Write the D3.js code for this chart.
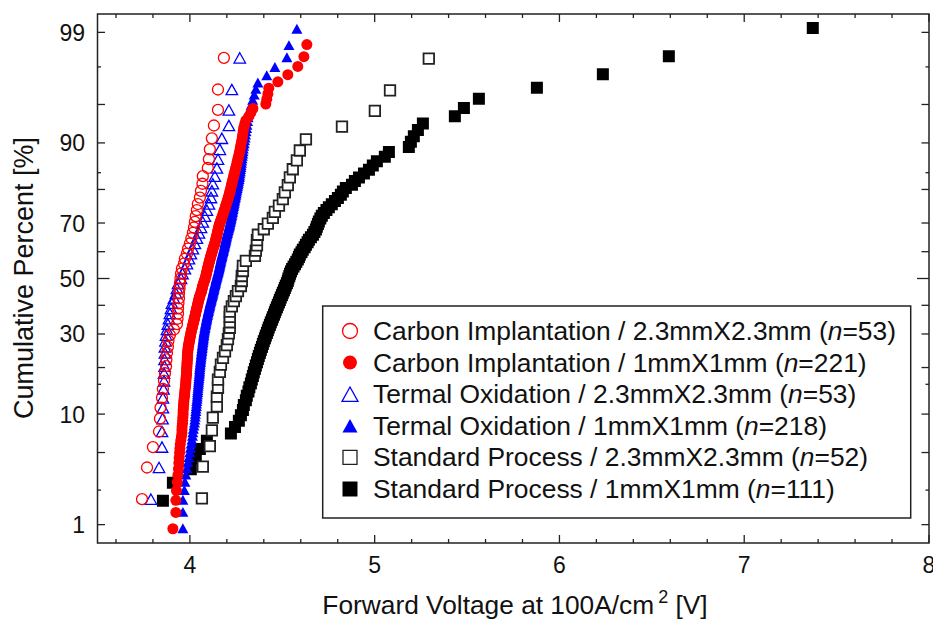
<!DOCTYPE html>
<html>
<head>
<meta charset="utf-8">
<script src="https://d3js.org/d3.v7.min.js"></script>
<style>
  body { margin: 0; background: #fff; }
  text { font-family: "Liberation Sans", Arial, sans-serif; fill: #111; }
</style>
</head>
<body>
<script>
// forward voltage readings [V], sorted, one per device
var carbonLarge = [3.741, 3.768, 3.800, 3.833, 3.838, 3.841, 3.849, 3.854, 3.860, 3.865,
  3.871, 3.873, 3.876, 3.881, 3.884, 3.892, 3.914, 3.930, 3.933, 3.936,
  3.936, 3.938, 3.941, 3.941, 3.944, 3.946, 3.949, 3.952, 3.957, 3.968,
  3.973, 3.984, 3.990, 4.000, 4.008, 4.016, 4.022, 4.027, 4.032, 4.038,
  4.043, 4.054, 4.060, 4.068, 4.070, 4.097, 4.103, 4.108, 4.119, 4.130,
  4.152, 4.152, 4.184];

// first value falls below 1%, last two are off the top / right of the plot
var carbonSmall = [3.905, 3.908, 3.924, 3.924, 3.927, 3.932, 3.935, 3.938, 3.940, 3.942,
  3.944, 3.946, 3.948, 3.951, 3.954, 3.957, 3.957, 3.958, 3.960, 3.961,
  3.962, 3.963, 3.963, 3.964, 3.965, 3.966, 3.967, 3.968, 3.970, 3.971,
  3.972, 3.973, 3.974, 3.976, 3.977, 3.978, 3.978, 3.979, 3.980, 3.981,
  3.982, 3.982, 3.983, 3.983, 3.984, 3.984, 3.985, 3.985, 3.986, 3.986,
  3.987, 3.987, 3.988, 3.988, 3.989, 3.990, 3.991, 3.992, 3.994, 3.995,
  3.996, 3.998, 3.999, 4.001, 4.002, 4.004, 4.005, 4.007, 4.008, 4.010,
  4.012, 4.014, 4.015, 4.017, 4.019, 4.021, 4.022, 4.024, 4.025, 4.027,
  4.029, 4.030, 4.032, 4.033, 4.035, 4.037, 4.038, 4.040, 4.041, 4.043,
  4.045, 4.046, 4.048, 4.049, 4.051, 4.053, 4.055, 4.057, 4.060, 4.062,
  4.064, 4.065, 4.067, 4.068, 4.070, 4.072, 4.074, 4.076, 4.078, 4.081,
  4.083, 4.085, 4.086, 4.088, 4.089, 4.091, 4.092, 4.094, 4.095, 4.097,
  4.099, 4.100, 4.102, 4.103, 4.105, 4.107, 4.109, 4.110, 4.112, 4.114,
  4.116, 4.118, 4.120, 4.122, 4.124, 4.126, 4.128, 4.131, 4.133, 4.135,
  4.137, 4.139, 4.140, 4.142, 4.144, 4.146, 4.147, 4.149, 4.150, 4.152,
  4.154, 4.156, 4.157, 4.159, 4.161, 4.164, 4.167, 4.169, 4.172, 4.175,
  4.178, 4.180, 4.183, 4.185, 4.188, 4.191, 4.193, 4.196, 4.198, 4.201,
  4.204, 4.206, 4.209, 4.211, 4.214, 4.216, 4.218, 4.221, 4.223, 4.225,
  4.227, 4.230, 4.232, 4.235, 4.237, 4.240, 4.243, 4.245, 4.248, 4.251,
  4.254, 4.256, 4.259, 4.262, 4.265, 4.268, 4.271, 4.273, 4.276, 4.279,
  4.282, 4.284, 4.287, 4.289, 4.292, 4.297, 4.303, 4.318, 4.330, 4.341,
  4.411, 4.416, 4.422, 4.427, 4.476, 4.530, 4.584, 4.617, 4.633, 8.30,
  8.50];

var oxideLarge = [3.789, 3.833, 3.849, 3.849, 3.852, 3.854, 3.854, 3.857, 3.860, 3.860,
  3.863, 3.863, 3.865, 3.865, 3.868, 3.871, 3.876, 3.881, 3.887, 3.892,
  3.898, 3.903, 3.914, 3.925, 3.930, 3.936, 3.952, 3.960, 3.973, 3.984,
  3.995, 4.005, 4.016, 4.027, 4.038, 4.049, 4.060, 4.070, 4.081, 4.092,
  4.103, 4.114, 4.119, 4.124, 4.135, 4.146, 4.152, 4.162, 4.173, 4.211,
  4.211, 4.227, 4.270];

var oxideSmall = [3.958, 3.962, 3.962, 3.962, 3.970, 3.973, 3.978, 3.984, 3.989, 3.995,
  3.999, 4.003, 4.007, 4.011, 4.014, 4.016, 4.019, 4.022, 4.025, 4.027,
  4.029, 4.030, 4.032, 4.033, 4.035, 4.036, 4.037, 4.039, 4.040, 4.041,
  4.042, 4.043, 4.044, 4.045, 4.046, 4.047, 4.048, 4.049, 4.050, 4.051,
  4.052, 4.053, 4.053, 4.054, 4.055, 4.056, 4.057, 4.058, 4.059, 4.060,
  4.061, 4.062, 4.063, 4.064, 4.065, 4.066, 4.067, 4.068, 4.069, 4.070,
  4.071, 4.072, 4.073, 4.074, 4.075, 4.076, 4.077, 4.078, 4.080, 4.081,
  4.082, 4.084, 4.085, 4.086, 4.088, 4.089, 4.091, 4.092, 4.093, 4.095,
  4.097, 4.098, 4.100, 4.101, 4.103, 4.105, 4.106, 4.108, 4.109, 4.111,
  4.113, 4.115, 4.116, 4.118, 4.120, 4.122, 4.123, 4.125, 4.126, 4.128,
  4.130, 4.131, 4.133, 4.134, 4.136, 4.138, 4.139, 4.141, 4.142, 4.144,
  4.146, 4.148, 4.149, 4.151, 4.153, 4.155, 4.156, 4.158, 4.159, 4.161,
  4.162, 4.164, 4.165, 4.167, 4.168, 4.170, 4.171, 4.173, 4.174, 4.176,
  4.178, 4.180, 4.181, 4.183, 4.185, 4.187, 4.188, 4.190, 4.191, 4.193,
  4.195, 4.196, 4.198, 4.199, 4.201, 4.203, 4.205, 4.207, 4.209, 4.211,
  4.213, 4.215, 4.216, 4.218, 4.220, 4.222, 4.223, 4.225, 4.226, 4.228,
  4.230, 4.231, 4.233, 4.234, 4.236, 4.238, 4.240, 4.241, 4.243, 4.245,
  4.247, 4.249, 4.250, 4.252, 4.254, 4.256, 4.258, 4.260, 4.262, 4.264,
  4.266, 4.268, 4.269, 4.271, 4.273, 4.274, 4.276, 4.277, 4.279, 4.280,
  4.282, 4.284, 4.286, 4.287, 4.289, 4.291, 4.294, 4.296, 4.299, 4.301,
  4.304, 4.307, 4.309, 4.312, 4.315, 4.320, 4.326, 4.332, 4.340, 4.348,
  4.357, 4.368, 4.416, 4.460, 4.525, 4.536, 4.579, 4.600];

var stdLarge = [4.065, 4.070, 4.108, 4.119, 4.124, 4.146, 4.146, 4.152, 4.152, 4.162,
  4.168, 4.179, 4.190, 4.200, 4.206, 4.211, 4.216, 4.216, 4.216, 4.216,
  4.227, 4.238, 4.249, 4.260, 4.276, 4.281, 4.281, 4.287, 4.287, 4.303,
  4.352, 4.357, 4.363, 4.363, 4.368, 4.400, 4.422, 4.449, 4.460, 4.482,
  4.503, 4.514, 4.530, 4.541, 4.557, 4.579, 4.595, 4.628, 4.823, 5.001,
  5.083, 5.293];

// first value is below 3.5 V (off the left edge)
var stdSmall = [3.47, 3.854, 3.908, 4.005, 4.032, 4.054, 4.092, 4.222, 4.244, 4.265,
  4.276, 4.287, 4.292, 4.303, 4.308, 4.317, 4.322, 4.330, 4.335, 4.341,
  4.346, 4.352, 4.357, 4.363, 4.368, 4.373, 4.379, 4.384, 4.390, 4.395,
  4.400, 4.406, 4.411, 4.417, 4.422, 4.427, 4.433, 4.438, 4.444, 4.449,
  4.455, 4.460, 4.465, 4.471, 4.476, 4.482, 4.487, 4.492, 4.498, 4.503,
  4.509, 4.514, 4.519, 4.525, 4.530, 4.533, 4.538, 4.542, 4.547, 4.553,
  4.561, 4.569, 4.576, 4.584, 4.590, 4.595, 4.604, 4.611, 4.621, 4.628,
  4.637, 4.644, 4.655, 4.666, 4.674, 4.682, 4.687, 4.693, 4.698, 4.706,
  4.714, 4.725, 4.739, 4.752, 4.768, 4.785, 4.801, 4.817, 4.828, 4.844,
  4.877, 4.893, 4.915, 4.942, 4.969, 4.990, 5.012, 5.055, 5.077, 5.185,
  5.196, 5.212, 5.234, 5.261, 5.434, 5.483, 5.564, 5.878, 6.235, 6.592,
  7.371];

var seriesNames = ["Carbon Implantation / 2.3mmX2.3mm", "Carbon Implantation / 1mmX1mm",
  "Termal Oxidation / 2.3mmX2.3mm", "Termal Oxidation / 1mmX1mm",
  "Standard Process / 2.3mmX2.3mm", "Standard Process / 1mmX1mm"];
var seriesData = [carbonLarge, carbonSmall, oxideLarge, oxideSmall, stdLarge, stdSmall];

var xTicks = [4, 5, 6, 7, 8];
var yTicks = [1, 10, 30, 50, 70, 90, 99];
var yMinor = [5, 20, 40, 60, 80, 95];
var ySigma = [-2, -1, 1, 2];

// marker look per series
var styles = [
  {shape: "circle", fill: "none", stroke: "#ff0000"},
  {shape: "circle", fill: "#ff0000", stroke: "none"},
  {shape: "triangle", fill: "none", stroke: "#0000ff"},
  {shape: "triangle", fill: "#0000ff", stroke: "none"},
  {shape: "square", fill: "#fff", stroke: "#222"},
  {shape: "square", fill: "#000", stroke: "none"}
];

// inverse normal cdf (Acklam)
function probit(p) {
  var a = [-3.969683028665376e+01, 2.209460984245205e+02, -2.759285104469687e+02, 1.383577518672690e+02, -3.066479806614716e+01, 2.506628277459239e+00];
  var b = [-5.447609879822406e+01, 1.615858368580409e+02, -1.556989798598866e+02, 6.680131188771972e+01, -1.328068155288572e+01];
  var c = [-7.784894002430293e-03, -3.223964580411365e-01, -2.400758277161838e+00, -2.549732539343734e+00, 4.374664141464968e+00, 2.938163982698783e+00];
  var d = [7.784695709041462e-03, 3.224671290700398e-01, 2.445134137142996e+00, 3.754408661907416e+00];
  var q, r;
  if (p < 0.02425) {
    q = Math.sqrt(-2 * Math.log(p));
    return (((((c[0]*q+c[1])*q+c[2])*q+c[3])*q+c[4])*q+c[5]) / ((((d[0]*q+d[1])*q+d[2])*q+d[3])*q+1);
  }
  if (p > 1 - 0.02425) {
    q = Math.sqrt(-2 * Math.log(1 - p));
    return -(((((c[0]*q+c[1])*q+c[2])*q+c[3])*q+c[4])*q+c[5]) / ((((d[0]*q+d[1])*q+d[2])*q+d[3])*q+1);
  }
  q = p - 0.5; r = q * q;
  return (((((a[0]*r+a[1])*r+a[2])*r+a[3])*r+a[4])*r+a[5])*q / (((((b[0]*r+b[1])*r+b[2])*r+b[3])*r+b[4])*r+1);
}

var W = 933, H = 619;
var pL = 97.5, pR = 929, pT = 14, pB = 543;

var x = d3.scaleLinear().domain([3.5, 8]).range([pL, pR]);
var z = d3.scaleLinear().domain([-2.5, 2.5]).range([pB, pT]);
function yPct(p) { return z(probit(p / 100)); }

var svg = d3.select("body").append("svg")
  .attr("width", W).attr("height", H);

svg.append("clipPath").attr("id", "plot")
  .append("rect").attr("x", pL).attr("y", pT)
  .attr("width", pR - pL).attr("height", pB - pT);

function marker(shape, s) {
  if (shape == "circle") return d3.symbol().type(d3.symbolCircle).size(Math.PI * s * s / 4)();
  if (shape == "square") return d3.symbol().type(d3.symbolSquare).size(s * s)();
  var h = s * 0.9;
  return "M0," + (-h / 2) + "L" + (s / 2) + "," + (h / 2) + "L" + (-s / 2) + "," + (h / 2) + "Z";
}

var sizes = [11, 11, 11.5, 11, 10.5, 12];

// points: cumulative percent = rank / (n + 1)
var plot = svg.append("g").attr("clip-path", "url(#plot)");
d3.range(5, -1, -1).forEach(function(k) {
  var vals = seriesData[k], n = vals.length, st = styles[k];
  plot.append("g").selectAll("path")
    .data(vals.map(function(v, i) { return {v: v, p: (i + 1) / (n + 1) * 100}; }))
    .enter().append("path")
    .attr("transform", function(d) { return "translate(" + x(d.v) + "," + yPct(d.p) + ")"; })
    .attr("d", marker(st.shape, sizes[k]))
    .attr("fill", st.fill)
    .attr("stroke", st.stroke)
    .attr("stroke-width", k == 4 ? 1.8 : 1.3);
});

// frame
svg.append("rect").attr("x", pL).attr("y", pT)
  .attr("width", pR - pL).attr("height", pB - pT)
  .attr("fill", "none").attr("stroke", "#222").attr("stroke-width", 1.5);

// x ticks, bottom and top, pointing inward
var xMinor = d3.range(3.6, 8.0, 0.2).filter(function(v) { return Math.abs(v - Math.round(v)) > 0.01; });
var ax = svg.append("g").attr("stroke", "#222").attr("stroke-width", 1.3);
xTicks.concat(xMinor).forEach(function(v) {
  var len = xTicks.indexOf(v) >= 0 ? 8 : 4;
  ax.append("line").attr("x1", x(v)).attr("x2", x(v)).attr("y1", pB).attr("y2", pB - len);
  ax.append("line").attr("x1", x(v)).attr("x2", x(v)).attr("y1", pT).attr("y2", pT + len);
});

// y ticks, left and right
yTicks.concat(yMinor).forEach(function(p) {
  var len = p == 50 ? 12 : 7.5, yy = yPct(p);
  ax.append("line").attr("x1", pL).attr("x2", pL + len).attr("y1", yy).attr("y2", yy);
  ax.append("line").attr("x1", pR).attr("x2", pR - len).attr("y1", yy).attr("y2", yy);
});
ySigma.forEach(function(s) {
  ax.append("line").attr("x1", pL).attr("x2", pL + 3.5).attr("y1", z(s)).attr("y2", z(s));
  ax.append("line").attr("x1", pR).attr("x2", pR - 3.5).attr("y1", z(s)).attr("y2", z(s));
});

svg.append("g").selectAll("text").data(xTicks).enter().append("text")
  .attr("x", function(d) { return x(d); }).attr("y", 572.5)
  .attr("text-anchor", "middle").attr("font-size", 23)
  .text(function(d) { return d; });

svg.append("g").selectAll("text").data(yTicks).enter().append("text")
  .attr("x", 85).attr("y", function(d) { return yPct(d) + 8.5; })
  .attr("text-anchor", "end").attr("font-size", 23)
  .text(function(d) { return d; });

// axis titles
var xt = svg.append("text").attr("x", 515).attr("y", 613.5)
  .attr("text-anchor", "middle").attr("font-size", 26.3);
xt.append("tspan").text("Forward Voltage at 100A/cm");
xt.append("tspan").attr("dx", 4).attr("dy", -11).attr("font-size", 18).text("2");
xt.append("tspan").attr("dy", 11).text(" [V]");

svg.append("text")
  .attr("transform", "translate(33,278) rotate(-90)")
  .attr("text-anchor", "middle").attr("font-size", 27)
  .text("Cumulative Percent [%]");

// legend
var lg = svg.append("g");
lg.append("rect").attr("x", 322.7).attr("y", 306).attr("width", 588).attr("height", 212)
  .attr("fill", "#fff").attr("stroke", "#222").attr("stroke-width", 1.5);
var legendSizes = [15, 14, 16, 15, 14, 15];
seriesNames.forEach(function(name, k) {
  var base = 340 + k * 31.6, st = styles[k];
  lg.append("path")
    .attr("transform", "translate(350," + (base - 9) + ")")
    .attr("d", marker(st.shape, legendSizes[k]))
    .attr("fill", st.fill).attr("stroke", st.stroke)
    .attr("stroke-width", 1.3);
  var t = lg.append("text").attr("x", 373).attr("y", base).attr("font-size", 26.4);
  t.append("tspan").text(name + " (");
  t.append("tspan").attr("font-style", "italic").text("n");
  t.append("tspan").text("=" + seriesData[k].length + ")");
});
</script>
</body>
</html>
